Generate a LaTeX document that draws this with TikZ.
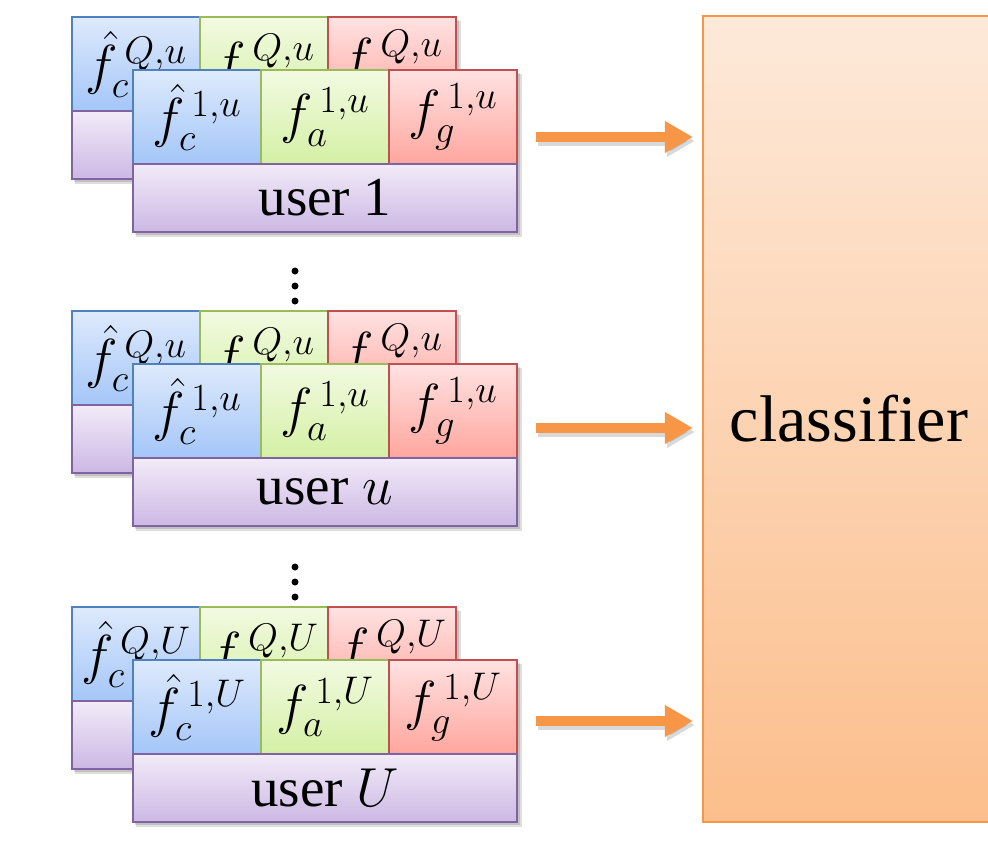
\RequirePackage{fix-cm}
\documentclass[tikz,border=0pt]{standalone}
\usepackage{amsmath}
\usepackage{fontspec}
\setmainfont{LiberationSerif}[Extension=.ttf, UprightFont=*-Regular, ItalicFont=*-Italic, BoldFont=*-Bold, BoldItalicFont=*-BoldItalic]
\usetikzlibrary{arrows.meta, calc, positioning}

\definecolor{bluetop}{RGB}{222,234,252}
\definecolor{bluebot}{RGB}{164,198,248}
\definecolor{blueline}{RGB}{79,129,189}
\definecolor{greentop}{RGB}{242,250,226}
\definecolor{greenbot}{RGB}{212,240,164}
\definecolor{greenline}{RGB}{155,187,89}
\definecolor{redtop}{RGB}{255,226,226}
\definecolor{redbot}{RGB}{255,166,158}
\definecolor{redline}{RGB}{192,80,77}
\definecolor{purptop}{RGB}{242,235,248}
\definecolor{purpbot}{RGB}{204,184,228}
\definecolor{purpline}{RGB}{128,100,162}
\definecolor{orangeline}{RGB}{247,150,70}
\definecolor{orangetop}{RGB}{253,233,217}
\definecolor{orangebot}{RGB}{252,190,140}

\newcommand{\cellfont}{\fontsize{55}{62}\selectfont}

\begin{document}
\begin{tikzpicture}[x=1pt, y=-1pt,
		cell/.style={rectangle, inner sep=0pt, outer sep=0pt, line width=2pt,
			minimum width=128pt, minimum height=94pt, font=\cellfont},
		cellc/.style={cell, draw=blueline, top color=bluetop, bottom color=bluebot},
		cella/.style={cell, draw=greenline, top color=greentop, bottom color=greenbot},
		cellg/.style={cell, draw=redline, top color=redtop, bottom color=redbot},
		userbox/.style={cell, draw=purpline, top color=purptop, bottom color=purpbot,
			minimum width=384pt, minimum height=68pt},
		cardshadow/.style={fill=black, opacity=0.13},
		clsbox/.style={rectangle, draw=orangeline, line width=2.2pt,
			top color=orangetop, bottom color=orangebot,
			minimum width=292pt, minimum height=806pt, font=\fontsize{66}{72}\selectfont},
		bigarrow/.style={draw=orangeline, line width=10pt,
			-{Triangle[length=28pt, width=30pt]}}]
		\useasboundingbox (0,0) rectangle (988,855);
		
		% Classifier
		\node[clsbox] (cls) at (849,419) {classifier};
		
		% User feature stacks
		\foreach \g/\ty/\us/\lab/\ay in {1/70/u/1/137, 2/364/u/$u$/428, 3/660/U/$U$/721} {
			% back card (session Q)
			\fill[cardshadow] (75,\ty-49) rectangle (461,\ty+114);
			\fill[cardshadow] (74,\ty-50) rectangle (459,\ty+112);
			\node[cellc, anchor=north west] (bc\g) at (72,\ty-53) {$\hat{f}_c^{\,Q,\us}$};
			\node[cella, right=0pt of bc\g] (ba\g) {$f_a^{\,Q,\us}$};
			\node[cellg, right=0pt of ba\g] (bg\g) {$f_g^{\,Q,\us}$};
			\node[userbox, below=0pt of ba\g] (bu\g) {};
			
			% front card (session 1)
			\fill[cardshadow] (136,\ty+4) rectangle (522,\ty+167);
			\fill[cardshadow] (135,\ty+3) rectangle (520,\ty+165);
			\node[cellc, anchor=north west] (fc\g) at (133,\ty) {$\hat{f}_c^{\,1,\us}$};
			\node[cella, right=0pt of fc\g] (fa\g) {$f_a^{\,1,\us}$};
			\node[cellg, right=0pt of fa\g] (fg\g) {$f_g^{\,1,\us}$};
			\node[userbox, below=0pt of fa\g] (fu\g) {user \lab};
			
			% arrow into classifier
			\coordinate (a\g) at (536,\ay);
			\draw[bigarrow, draw=black, opacity=0.15, transform canvas={xshift=2pt, yshift=-4pt}, shorten >=9pt] (a\g) -- (a\g -| cls.west);
			\draw[bigarrow, shorten >=9pt] (a\g) -- (a\g -| cls.west);
		}
		
		% Ellipsis dots
		\foreach \dy in {271, 567} {
			\foreach \k in {0,1,2}
				\fill (295,\dy+15*\k) circle[radius=3.5pt];
		}
	\end{tikzpicture}
\end{document}
